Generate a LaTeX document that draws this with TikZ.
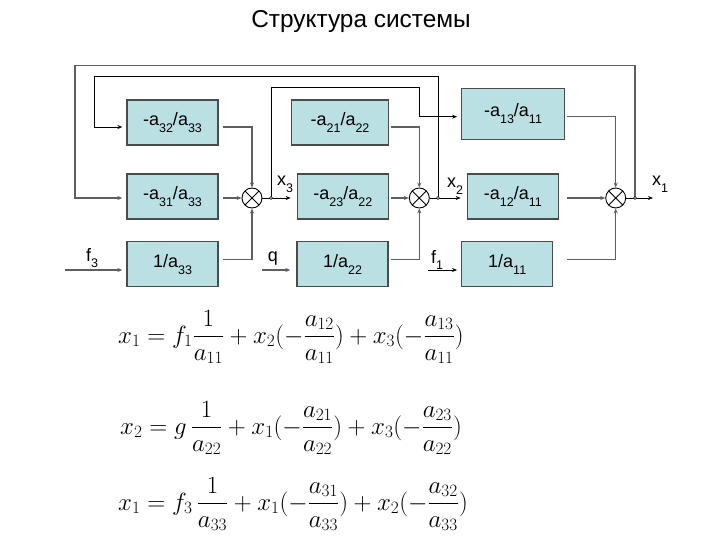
\documentclass[tikz,border=0pt]{standalone}
\usepackage{amsmath}
\usepackage{fontspec}
\setmainfont{Liberation Sans}
\usetikzlibrary{arrows.meta}
\definecolor{boxfill}{RGB}{186,224,228}
\definecolor{boxline}{RGB}{75,75,75}
\definecolor{wiregray}{RGB}{95,95,95}
\newcommand{\mysub}[1]{\raisebox{-0.38em}{\fontsize{12.5}{12.5}\selectfont #1}}
\tikzset{
  blk/.style={draw=boxline, line width=1.3pt, fill=boxfill, minimum width=91pt, minimum height=45pt, inner sep=0pt, font=\fontsize{18}{20}\selectfont},
  summ/.style={draw=black, line width=0.9pt, fill=white, circle, minimum size=20pt, inner sep=0pt,
    path picture={\draw[line width=0.8pt] (path picture bounding box.north west)--(path picture bounding box.south east)
      (path picture bounding box.north east)--(path picture bounding box.south west);}},
  wire/.style={draw=wiregray, line width=1.4pt},
  thin/.style={draw=black, line width=0.8pt},
  arr/.style={-{Stealth[length=5pt,width=4pt]}},
  sig/.style={font=\fontsize{18}{20}\selectfont, inner sep=0pt},
  junc/.style={circle, draw=black, fill=white, line width=0.6pt, minimum size=3pt, inner sep=0pt},
  eq/.style={anchor=west, inner sep=0pt, font=\fontsize{26}{30}\selectfont}
}
\begin{document}
\begin{tikzpicture}[x=1pt, y=-1pt]
\useasboundingbox (0,0) rectangle (720,540);
% title
\node[anchor=base, inner sep=0pt, font=\fontsize{24.4}{28}\selectfont] (title) at (361,28) {Структура системы};
% blocks
\node[blk] (b32) at (172.5,122.5) {-a\mysub{32}/a\mysub{33}};
\node[blk] (b31) at (172.5,196.5) {-a\mysub{31}/a\mysub{33}};
\node[blk] (b33) at (172.5,264.2) {1/a\mysub{33}};
\node[blk, minimum width=96.6pt] (b21) at (340,122.5) {-a\mysub{21}/a\mysub{22}};
\node[blk] (b23) at (342.8,196.5) {-a\mysub{23}/a\mysub{22}};
\node[blk] (b22) at (342.5,264.2) {1/a\mysub{22}};
\node[blk, minimum width=102.6pt, minimum height=51pt] (b13) at (513,113.8) {-a\mysub{13}/a\mysub{11}};
\node[blk] (b12) at (512.8,196.5) {-a\mysub{12}/a\mysub{11}};
\node[blk] (b11) at (507.2,264.2) {1/a\mysub{11}};
% summators
\node[summ] (s1) at (252,198) {};
\node[summ] (s2) at (419.3,198) {};
\node[summ] (s3) at (615.7,198) {};
% free ends
\coordinate (f3in) at (65,270);
\coordinate (qin) at (262,270);
\coordinate (f1in) at (428,270);
\coordinate (x1out) at (653,198);
\coordinate (j3) at (271,198);
\coordinate (j2) at (438,198);
\coordinate (j1) at (635,198);
% column 1
\draw[wire, arr] ([shift={(4pt,-4.5pt)}]b32.east) -| (s1.north);
\draw[wire, arr] ([xshift=4pt,yshift=-1.5pt]b31.east) -- (s1.west);
\draw[wire, arr] ([shift={(4pt,4.8pt)}]b33.east) -| (s1.south);
\draw[wire, arr, shorten >=4pt] (f3in) -- ([yshift=-5.8pt]b33.west);
\draw[thin, arr, shorten >=6pt] (s1.east) -- ([yshift=-1.5pt]b23.west);
\draw[wire, arr, shorten >=6pt] (qin) -- ([yshift=-5.8pt]b22.west);
% column 2
\draw[wire, arr] ([shift={(2pt,-4.5pt)}]b21.east) -| (s2.north);
\draw[wire, arr] ([xshift=2pt,yshift=-1.5pt]b23.east) -- (s2.west);
\draw[wire, arr] ([shift={(2pt,4.8pt)}]b22.east) -| (s2.south);
\draw[thin, arr, shorten >=6pt] (s2.east) -- ([yshift=-1.5pt]b12.west);
\draw[thin, arr, shorten >=4pt] (f1in) -- ([yshift=-5.8pt]b11.west);
% column 3
\draw[wire, arr] ([shift={(2.4pt,-2.9pt)}]b13.east) -| (s3.north);
\draw[wire, arr] ([xshift=8.4pt,yshift=-1.5pt]b12.east) -- (s3.west);
\draw[wire, arr] ([shift={(14pt,4.8pt)}]b11.east) -| (s3.south);
\draw[thin, arr] (s3.east) -- (x1out);
% feedback loops
\draw[wire, arr, shorten >=4pt] (j1) -- (635,65.7) -- (75,65.7) |- ([yshift=-1.5pt]b31.west);
\draw[thin, arr, shorten >=4pt] (j2) -- (438,76) -- (94.3,76) |- ([yshift=-4.5pt]b32.west);
\draw[thin, arr, shorten >=4pt] (j3) -- (271,87) -- (419,87) -- (419,116.7) -- ([yshift=-2.9pt]b13.west);
\node[junc] at (j1) {};
\node[junc] at (j2) {};
\node[junc] at (j3) {};
% signal labels
\node[sig] (lx3) at (285,184) {x\mysub{3}};
\node[sig] (lx2) at (455,186) {x\mysub{2}};
\node[sig] (lx1) at (660,184) {x\mysub{1}};
\node[sig] (lf3) at (92,258) {f\mysub{3}};
\node[sig] (lq) at (273,259) {q};
\node[sig] (lf1) at (437,260) {f\mysub{1}};
% equations
\node[eq] (e1) at (118,337) {$x_1 = f_1\dfrac{1}{a_{11}} + x_2(-\dfrac{a_{12}}{a_{11}}) + x_3(-\dfrac{a_{13}}{a_{11}})$};
\node[eq] (e2) at (120,428) {$x_2 = g\,\dfrac{1}{a_{22}} + x_1(-\dfrac{a_{21}}{a_{22}}) + x_3(-\dfrac{a_{23}}{a_{22}})$};
\node[eq] (e3) at (118,504) {$x_1 = f_3\,\dfrac{1}{a_{33}} + x_1(-\dfrac{a_{31}}{a_{33}}) + x_2(-\dfrac{a_{32}}{a_{33}})$};
\end{tikzpicture}
\end{document}
